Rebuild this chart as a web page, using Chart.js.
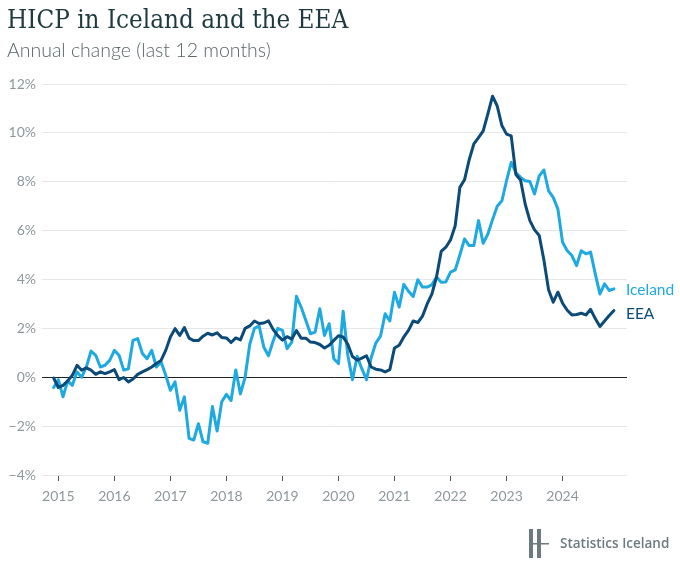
<!DOCTYPE html>
<html>
<head>
<meta charset="utf-8">
<script src="https://cdn.jsdelivr.net/npm/chart.js@4.4.1/dist/chart.umd.min.js"></script>
<style>
  body { margin: 0; background: #fff; }
  #wrap { position: relative; width: 680px; height: 571px; }
  #title { position: absolute; left: 7px; top: 4px; font-family: "DejaVu Serif", serif; font-stretch: condensed; font-size: 25.8px; color: #1e3a3f; white-space: nowrap; }
  #subtitle { position: absolute; left: 7px; top: 38px; font-family: Lato, sans-serif; font-weight: 300; font-size: 19.5px; color: #5b6569; white-space: nowrap; }
  #logo { position: absolute; left: 527px; top: 529px; width: 150px; height: 30px; }
  #logo span { position: absolute; left: 33px; top: 5px; font-family: "Open Sans", sans-serif; font-weight: 600; font-size: 13.5px; color: #6a7a80; white-space: nowrap; }
</style>
</head>
<body>
<div id="wrap">
  <canvas id="hicpChart" width="680" height="571"></canvas>
  <div id="title">HICP in Iceland and the EEA</div>
  <div id="subtitle">Annual change (last 12 months)</div>
  <div id="logo">
    <svg width="24" height="30" style="position:absolute;left:0;top:0">
      <rect x="2" y="0" width="4" height="29" fill="#6a7a80"/>
      <rect x="10" y="0" width="4" height="29" fill="#6a7a80"/>
      <rect x="6" y="14" width="16" height="1.5" fill="#6a7a80"/>
    </svg>
    <span>Statistics Iceland</span>
  </div>
</div>
<script>
// maanedlig HICP, arleg breyting (%), des 2014 - des 2024
const iceland = [
  -0.42,
  -0.1, -0.8, -0.15, -0.33, 0.22, 0.0, 0.42, 1.07, 0.9, 0.42, 0.49, 0.69,
  1.1, 0.9, 0.29, 0.35, 1.51, 1.58, 0.97, 0.76, 1.1, 0.42, 0.63, 0.08,
  -0.53, -0.19, -1.35, -0.8, -2.5, -2.57, -1.9, -2.64, -2.7, -1.2, -2.2, -1.0,
  -0.7, -0.95, 0.3, -0.68, 0.0, 1.35, 2.0, 2.1, 1.24, 0.88, 1.47, 2.0,
  1.92, 1.17, 1.44, 3.31, 2.87, 2.33, 1.78, 1.85, 2.8, 1.71, 2.19, 0.76,
  0.56, 2.7, 0.9, -0.1, 0.86, 0.35, -0.1, 0.8, 1.4, 1.68, 2.6, 2.3,
  3.48, 2.87, 3.8, 3.52, 3.3, 3.99, 3.69, 3.69, 3.78, 4.1, 3.89, 3.9,
  4.3, 4.39, 5.0, 5.66, 5.39, 5.39, 6.41, 5.48, 5.86, 6.45, 7.0, 7.22,
  8.04, 8.79, 8.38, 8.18, 8.04, 8.01, 7.5, 8.24, 8.48, 7.63, 7.36, 6.88,
  5.52, 5.18, 4.98, 4.57, 5.18, 5.05, 5.12, 4.23, 3.41, 3.82, 3.55, 3.62
];
const eea = [
  -0.03,
  -0.42, -0.33, -0.15, 0.08, 0.49, 0.29, 0.38, 0.29, 0.12, 0.22, 0.15, 0.22,
  0.31, -0.1, -0.01, -0.19, -0.07, 0.12, 0.22, 0.31, 0.42, 0.56, 0.69, 1.1,
  1.65, 1.99, 1.71, 2.03, 1.6, 1.5, 1.5, 1.68, 1.8, 1.73, 1.82, 1.63,
  1.61, 1.42, 1.61, 1.53, 2.0, 2.1, 2.3, 2.2, 2.22, 2.31, 1.96, 1.7,
  1.52, 1.66, 1.56, 1.91, 1.6, 1.6, 1.44, 1.42, 1.34, 1.2, 1.31, 1.51,
  1.7, 1.65, 1.35, 0.85, 0.7, 0.78, 0.88, 0.42, 0.33, 0.3, 0.22, 0.31,
  1.2, 1.31, 1.65, 1.92, 2.3, 2.24, 2.5, 3.0, 3.4, 4.1, 5.15, 5.32,
  5.62, 6.2, 7.77, 8.08, 8.9, 9.55, 9.81, 10.08, 10.78, 11.5, 11.1, 10.3,
  9.95, 9.88, 8.3, 8.07, 7.08, 6.41, 6.03, 5.8, 4.8, 3.58, 3.07, 3.48,
  3.03, 2.74, 2.55, 2.57, 2.62, 2.55, 2.78, 2.4, 2.08, 2.3, 2.53, 2.73
];
// manudir fra jan 2015 (0 = jan 2015, -1 = des 2014)
const months = iceland.map((v, i) => i - 1);
const yearLabels = ['2015', '2016', '2017', '2018', '2019', '2020', '2021', '2022', '2023', '2024'];
const yearTicks = yearLabels.map((y, i) => i * 12);

const endLabels = {
  id: 'endLabels',
  afterDatasetsDraw(chart) {
    const ctx = chart.ctx;
    chart.data.datasets.forEach((ds, i) => {
      const pts = chart.getDatasetMeta(i).data;
      const last = pts[pts.length - 1];
      ctx.save();
      ctx.font = '15.5px Lato';
      ctx.fillStyle = ds.borderColor;
      ctx.textBaseline = 'middle';
      ctx.fillText(ds.label, last.x + 12, last.y + ds.labelShift);
      ctx.restore();
    });
  }
};

new Chart(document.getElementById('hicpChart').getContext('2d'), {
  type: 'line',
  data: {
    datasets: [{
      label: 'EEA',
      data: months.map((m, i) => ({ x: m, y: eea[i] })),
      borderColor: '#0c4a78',
      borderWidth: 3,
      labelShift: 3
    }, {
      label: 'Iceland',
      data: months.map((m, i) => ({ x: m, y: iceland[i] })),
      borderColor: '#1ea9e1',
      borderWidth: 3,
      labelShift: 1
    }]
  },
  options: {
    responsive: false,
    animation: false,
    layout: { padding: { top: 84, right: 53, bottom: 66, left: 0 } },
    elements: {
      point: { radius: 0 },
      line: { tension: 0, borderJoinStyle: 'round', borderCapStyle: 'round' }
    },
    plugins: { legend: { display: false }, tooltip: { enabled: false } },
    scales: {
      x: {
        type: 'linear',
        min: -3.5,
        max: 121.8,
        afterBuildTicks: scale => { scale.ticks = yearTicks.map(v => ({ value: v })); },
        afterFit: scale => { scale.height = 30; },
        ticks: {
          autoSkip: false,
          maxRotation: 0,
          padding: 7,
          color: '#8e989c',
          font: { family: 'Lato', size: 14 },
          callback: (value, index) => yearLabels[index]
        },
        grid: { drawOnChartArea: false, drawTicks: true, tickLength: 6, tickColor: '#555', tickWidth: 1 },
        border: { display: false }
      },
      y: {
        min: -4,
        max: 12,
        afterFit: scale => { scale.width = 42; },
        ticks: {
          stepSize: 2,
          padding: 6,
          color: '#8e989c',
          font: { family: 'Lato', size: 14 },
          callback: value => (value < 0 ? '\u2212' + Math.abs(value) : value) + '%'
        },
        grid: {
          drawTicks: false,
          color: ctx => (ctx.tick && ctx.tick.value === 0 ? '#222' : '#e6e6e6'),
          lineWidth: 1
        },
        border: { display: false }
      }
    }
  },
  plugins: [endLabels]
});
</script>
</body>
</html>
